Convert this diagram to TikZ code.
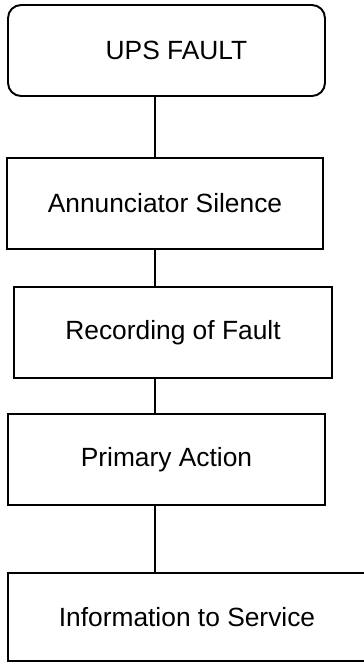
\documentclass[tikz,border=0pt]{standalone}
\usepackage{fontspec}
\setmainfont{Liberation Sans}
\usepackage{tikz}
\usetikzlibrary{positioning,calc}
\tikzset{
  box/.style={draw, line width=1.1pt, align=center, minimum width=6.34cm, minimum height=1.82cm,
              font=\fontsize{15}{18}\selectfont, inner sep=4pt},
  roundbox/.style={box, rounded corners=0.26cm},
  link/.style={line width=1.1pt},
}
\begin{document}
\begin{tikzpicture}[x=0.02cm, y=-0.02cm]
    \useasboundingbox (0,0) rectangle (364,664);
    \node[roundbox] (fault) at (166.5,50.5) {\hspace*{0.4cm}UPS FAULT};
    \node[box, minimum width=6.32cm] (silence) at (165,203.5) {Annunciator Silence};
    \node[box, minimum width=6.36cm] (record) at (173,332.5) {Recording of Fault};
    \node[box] (primary) at (166.5,459.5) {Primary Action};
    \node[box, minimum width=7.16cm, minimum height=1.76cm] (service) at (187,617) {Information to Service};
    \coordinate (spine) at (155,0);
    \draw[link] (fault.south -| spine) -- (silence.north -| spine);
    \draw[link] (silence.south -| spine) -- (record.north -| spine);
    \draw[link] (record.south -| spine) -- (primary.north -| spine);
    \draw[link] (primary.south -| spine) -- (service.north -| spine);
  \end{tikzpicture}
\end{document}
